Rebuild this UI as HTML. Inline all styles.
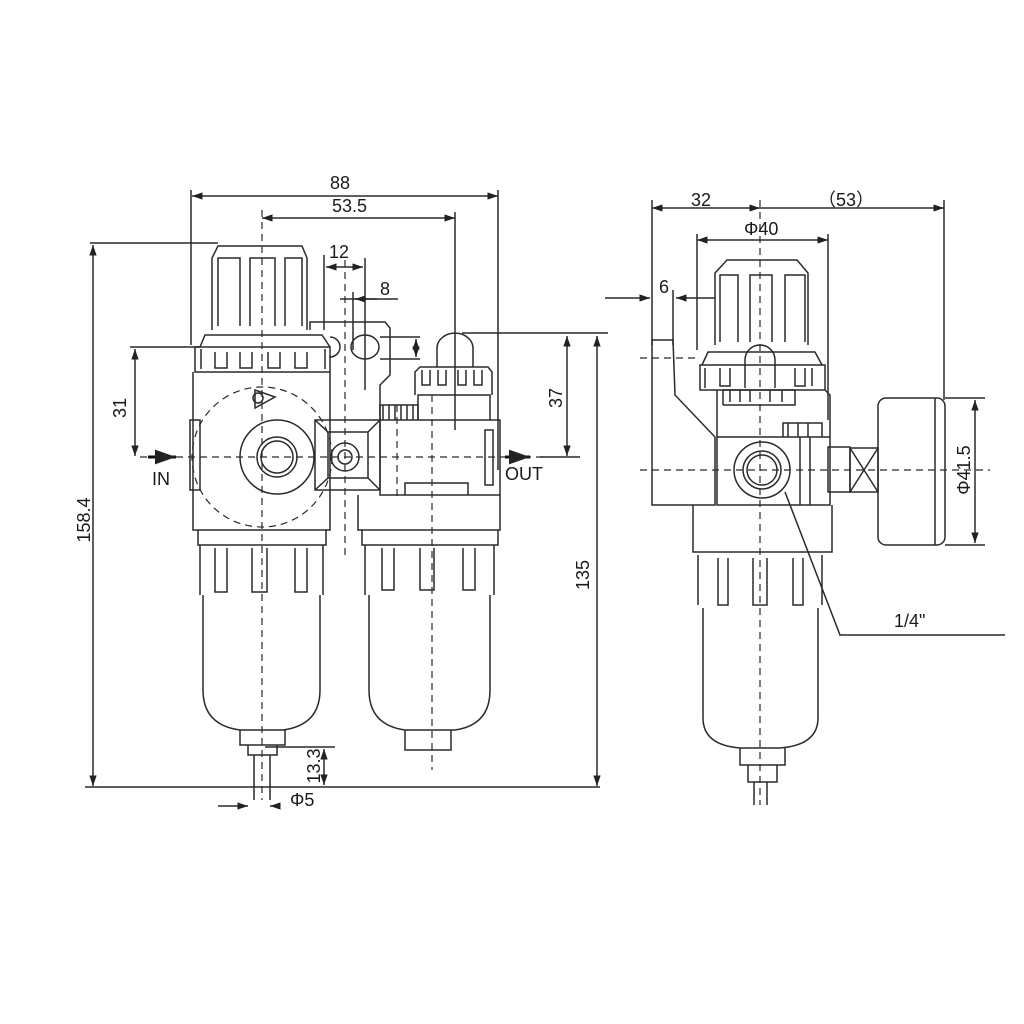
<!DOCTYPE html>
<html><head><meta charset="utf-8"><style>
html,body{margin:0;padding:0;background:#fff}
svg{display:block}
text{font-family:"Liberation Sans",sans-serif;fill:#1a1a1a;font-size:18px}
</style></head><body>
<svg width="1024" height="1024" viewBox="0 0 1024 1024" xmlns="http://www.w3.org/2000/svg">
<defs>
<marker id="a" viewBox="0 0 10 10" refX="10" refY="5" markerWidth="9" markerHeight="7" orient="auto-start-reverse"><path d="M0,1.5 L10,5 L0,8.5z" fill="#222"/></marker>
</defs>
<g fill="none" stroke="#2a2a2a" stroke-width="1.5">
<line x1="192" y1="196" x2="498" y2="196" marker-start="url(#a)" marker-end="url(#a)"/>
<line x1="262" y1="218" x2="455" y2="218" marker-start="url(#a)" marker-end="url(#a)"/>
<line x1="191" y1="190" x2="191" y2="345"/>
<line x1="498" y1="190" x2="498" y2="470"/>
<line x1="455" y1="212" x2="455" y2="430"/>
<line x1="90" y1="243" x2="218" y2="243"/>
<line x1="93" y1="245" x2="93" y2="786" marker-start="url(#a)" marker-end="url(#a)"/>
<line x1="130" y1="347" x2="200" y2="347"/>
<line x1="135" y1="349" x2="135" y2="456" marker-start="url(#a)" marker-end="url(#a)"/>
<line x1="462" y1="333" x2="608" y2="333"/>
<line x1="567" y1="336" x2="567" y2="456" marker-start="url(#a)" marker-end="url(#a)"/>
<line x1="597" y1="336" x2="597" y2="786" marker-start="url(#a)" marker-end="url(#a)"/>
<line x1="85" y1="787" x2="600" y2="787"/>
<line x1="540" y1="457" x2="580" y2="457"/>
<line x1="324" y1="255" x2="324" y2="330"/>
<line x1="365" y1="258" x2="365" y2="390"/>
<line x1="326" y1="267" x2="363" y2="267" marker-start="url(#a)" marker-end="url(#a)"/>
<line x1="353" y1="292" x2="353" y2="350"/>
<line x1="340" y1="299" x2="398" y2="299"/>
<line x1="355" y1="299" x2="377" y2="299" marker-start="url(#a)"/>
<line x1="380" y1="337" x2="420" y2="337"/>
<line x1="380" y1="359" x2="420" y2="359"/>
<line x1="416" y1="339" x2="416" y2="357" marker-start="url(#a)" marker-end="url(#a)"/>
<line x1="265" y1="747" x2="335" y2="747"/>
<line x1="324" y1="749" x2="324" y2="785" marker-start="url(#a)" marker-end="url(#a)"/>
<line x1="218" y1="806" x2="248" y2="806" marker-end="url(#a)"/>
<line x1="278" y1="806" x2="270" y2="806" marker-end="url(#a)"/>
<g stroke-dasharray="7,5" stroke-width="1.2">
<line x1="262" y1="210" x2="262" y2="800"/>
<line x1="432" y1="395" x2="432" y2="770"/>
<line x1="140" y1="457" x2="545" y2="457"/>
<line x1="345" y1="260" x2="345" y2="560"/>
<line x1="397" y1="405" x2="397" y2="500"/>
<circle cx="262" cy="457" r="70"/>
</g>
<path d="M212,330 L212,258 L218,246 L302,246 L307,258 L307,330"/>
<path d="M218,326 V258 H240 V326 M250,326 V258 H275 V326 M285,326 V258 H302 V326"/>
<path d="M200,347 L205,335 L322,335 L330,347"/>
<rect x="195" y="347" width="135" height="25"/>
<path d="M201,349 v20 M215,352 v16 h12 v-16 M240,352 v16 h12 v-16 M268,352 v16 h12 v-16 M295,352 v16 h12 v-16 M325,349 v20"/>
<path d="M193,372 V530 H330 V372"/>
<rect x="190" y="420" width="10" height="70"/>
<path d="M255,390 L275,397 L255,408z"/>
<circle cx="258" cy="398" r="5"/>
<circle cx="277" cy="457" r="37"/>
<circle cx="277" cy="457" r="20"/>
<circle cx="277" cy="457" r="16"/>
<path d="M310,330 V322 H385 L390,328 V375 L380,385 L380,420"/>
<ellipse cx="365" cy="347" rx="14" ry="12"/>
<path d="M330,337 A10,10 0 0 1 330,357"/>
<rect x="315" y="420" width="65" height="70"/>
<path d="M315,420 L328,432 H368 L380,420 M315,490 L328,478 H368 L380,490 M328,432 V478 M368,432 V478"/>
<circle cx="345" cy="457" r="14"/><circle cx="345" cy="457" r="7"/>
<path d="M380,420 V405 H418 V420"/>
<path d="M383,405 v15 M389,405 v15 M395,405 v15 M401,405 v15 M407,405 v15 M413,405 v15"/>
<rect x="380" y="420" width="120" height="75"/>
<rect x="485" y="430" width="8" height="55"/>
<path d="M405,495 V483 H468 V495"/>
<path d="M358,495 V530 H500 V495"/>
<path d="M418,420 V395 H490 V420"/>
<path d="M415,395 V372 L420,367 H488 L492,372 V395"/>
<path d="M422,370 v15 h8 v-15 M438,370 v15 h8 v-15 M458,370 v15 h8 v-15 M474,370 v15 h8 v-15"/>
<path d="M437,367 V348 A17,14 0 0 1 473,348 V367"/>
<path d="M198,530 V545 H326 V530"/>
<path d="M200,545 V595 M323,545 V595 M215,548 V592 H227 V548 M252,548 V592 H267 V548 M295,548 V592 H307 V548"/>
<path d="M203,595 V690 Q203,725 240,730 H283 Q320,725 320,690 V595"/>
<path d="M240,730 V745 H285 V730 M248,745 V755 H277 V745 M254,755 V800 M270,755 V800"/>
<path d="M362,530 V545 H498 V530"/>
<path d="M365,545 V595 M494,545 V595 M382,548 V590 H394 V548 M420,548 V590 H434 V548 M463,548 V590 H475 V548"/>
<path d="M369,595 V690 Q369,725 405,730 H455 Q490,725 490,690 V595"/>
<path d="M405,730 V750 H451 V730"/>
<line x1="652" y1="208" x2="760" y2="208" marker-start="url(#a)" marker-end="url(#a)"/>
<line x1="760" y1="208" x2="944" y2="208" marker-end="url(#a)"/>
<line x1="652" y1="200" x2="652" y2="345"/>
<line x1="944" y1="200" x2="944" y2="400"/>
<line x1="697" y1="240" x2="828" y2="240" marker-start="url(#a)" marker-end="url(#a)"/>
<line x1="697" y1="234" x2="697" y2="350"/>
<line x1="828" y1="234" x2="828" y2="420"/>
<line x1="605" y1="298" x2="650" y2="298" marker-end="url(#a)"/>
<line x1="715" y1="298" x2="676" y2="298" marker-end="url(#a)"/>
<line x1="673" y1="290" x2="673" y2="345"/>
<line x1="945" y1="398" x2="985" y2="398"/>
<line x1="945" y1="545" x2="985" y2="545"/>
<line x1="975" y1="400" x2="975" y2="543" marker-start="url(#a)" marker-end="url(#a)"/>
<path d="M785,492 L840,635 H1005"/>
<g stroke-dasharray="7,5" stroke-width="1.2">
<line x1="760" y1="200" x2="760" y2="805"/>
<line x1="640" y1="470" x2="990" y2="470"/>
<line x1="640" y1="358" x2="700" y2="358"/>
</g>
<path d="M715,345 V273 L727,260 H797 L808,273 V345"/>
<path d="M720,342 V275 H738 V342 M750,342 V275 H772 V342 M785,342 V275 H805 V342"/>
<path d="M702,365 L708,352 H815 L822,365"/>
<rect x="700" y="365" width="125" height="25"/>
<path d="M705,368 v20 M720,368 v18 h10 v-18 M795,368 v18 h10 v-18 M812,368 v18"/>
<path d="M745,388 V360 A15,15 0 0 1 775,360 V388"/>
<path d="M723,405 V390 H795 V405 H723 M730,390 v12 M740,390 v12 M750,390 v12 M770,390 v12 M782,390 v12"/>
<path d="M652,340 H673 L675,395 L715,437 V505 H652 Z"/>
<path d="M717,390 V505 H830 V395 L825,390"/>
<line x1="717" y1="437" x2="830" y2="437"/>
<path d="M783,437 V423 H822 V437 M788,423 v14 M798,423 v14 M808,423 v14"/>
<circle cx="762" cy="470" r="28"/><circle cx="762" cy="470" r="19"/><circle cx="762" cy="470" r="15"/>
<path d="M800,437 V505 M810,437 V505"/>
<rect x="828" y="447" width="22" height="45"/>
<rect x="850" y="448" width="28" height="44"/>
<path d="M850,448 L878,492 M878,448 L850,492"/>
<rect x="878" y="398" width="67" height="147" rx="8"/>
<line x1="935" y1="398" x2="935" y2="545"/>
<path d="M693,505 V552 H832 V505"/>
<path d="M698,555 V605 M822,555 V605 M718,558 V605 H728 V558 M753,558 V605 H767 V558 M793,558 V605 H803 V558"/>
<path d="M703,608 V718 Q703,745 740,748 H780 Q818,745 818,718 V608"/>
<path d="M740,748 V765 H785 V748 M748,765 V782 H777 V765 M754,782 V805 M767,782 V805"/>
</g>
<path d="M148,457 H176" stroke="#111" stroke-width="3" marker-end="url(#a)"/>
<path d="M505,457 H530" stroke="#111" stroke-width="3" marker-end="url(#a)"/>
<text x="330" y="189">88</text>
<text x="332" y="212">53.5</text>
<text x="329" y="258">12</text>
<text x="380" y="295">8</text>
<text x="152" y="485">IN</text>
<text x="505" y="480">OUT</text>
<text x="290" y="806">Φ5</text>
<text transform="translate(90,520) rotate(-90)" text-anchor="middle">158.4</text>
<text transform="translate(126,408) rotate(-90)" text-anchor="middle">31</text>
<text transform="translate(562,398) rotate(-90)" text-anchor="middle">37</text>
<text transform="translate(589,575) rotate(-90)" text-anchor="middle">135</text>
<text transform="translate(320,766) rotate(-90)" text-anchor="middle">13.3</text>
<text x="691" y="206">32</text>
<text x="818" y="206">（53）</text>
<text x="744" y="235">Φ40</text>
<text x="659" y="293">6</text>
<text transform="translate(970,470) rotate(-90)" text-anchor="middle">Φ41.5</text>
<text x="894" y="627">1/4"</text>
</svg>
</body></html>
